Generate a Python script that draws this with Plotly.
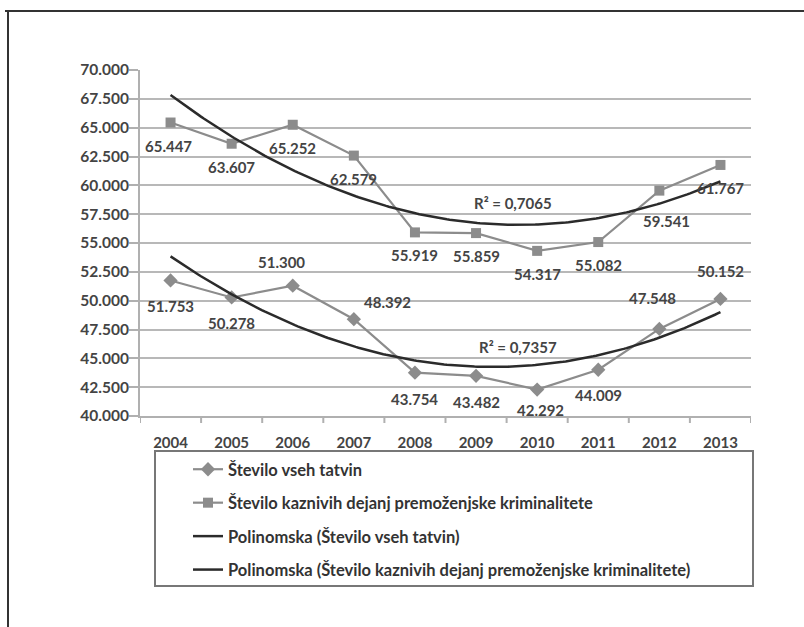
import numpy as np
import plotly.graph_objects as go

years = ["2004", "2005", "2006", "2007", "2008", "2009", "2010", "2011", "2012", "2013"]
tatvine = [51753, 50278, 51300, 48392, 43754, 43482, 42292, 44009, 47548, 50152]
premozenjske = [65447, 63607, 65252, 62579, 55919, 55859, 54317, 55082, 59541, 61767]
tatvine_labels = ["51.753", "50.278", "51.300", "48.392", "43.754", "43.482", "42.292", "44.009", "47.548", "50.152"]
premozenjske_labels = ["65.447", "63.607", "65.252", "62.579", "55.919", "55.859", "54.317", "55.082", "59.541", "61.767"]
ytick_vals = [40000, 42500, 45000, 47500, 50000, 52500, 55000, 57500, 60000, 62500, 65000, 67500, 70000]
ytick_text = ["40.000", "42.500", "45.000", "47.500", "50.000", "52.500", "55.000", "57.500", "60.000", "62.500", "65.000", "67.500", "70.000"]
names = ["Število vseh tatvin",
         "Število kaznivih dejanj premoženjske kriminalitete",
         "Polinomska (Število vseh tatvin)",
         "Polinomska (Število kaznivih dejanj premoženjske kriminalitete)"]

# label offsets (pixels) for the data labels
t_shift = [(0, -26), (0, -26), (-11, 24), (34, 17), (0, -26), (0, -26), (3, -20), (0, -25), (-7, 31), (0, 28)]
p_shift = [(-2, -23), (0, -23), (0, -23), (0, -23), (0, -23), (0, -23), (0, -23), (0, -23), (7, -30), (0, -23)]

W, H = 804, 627
L, R, T, B = 140, 53, 70, 211
pw, ph = W - L - R, H - T - B

def px(x):
    return (x - L) / pw

def py(y):
    return (H - B - y) / ph

xi = np.arange(len(years))
dense = np.linspace(0, len(years) - 1, 200)

def fit(vals):
    c = np.polyfit(xi, vals, 2)
    pred = np.polyval(c, xi)
    v = np.array(vals, dtype=float)
    r2 = 1 - np.sum((v - pred) ** 2) / np.sum((v - v.mean()) ** 2)
    return np.polyval(c, dense), r2

t_fit, t_r2 = fit(tatvine)
p_fit, p_r2 = fit(premozenjske)

gray = "#8c8c8c"
dark = "#2b2b2b"
font = "Lato"
txtc = "#444444"

fig = go.Figure()
fig.add_trace(go.Scatter(x=xi, y=tatvine, mode="lines+markers", name=names[0],
                         line=dict(color=gray, width=2.2),
                         marker=dict(symbol="diamond", size=11, color=gray),
                         legendgroup="a"))
fig.add_trace(go.Scatter(x=xi, y=premozenjske, mode="lines+markers", name=names[1],
                         line=dict(color=gray, width=2.2),
                         marker=dict(symbol="square", size=10, color=gray),
                         legendgroup="b"))
fig.add_trace(go.Scatter(x=dense, y=t_fit, mode="lines", name=names[2],
                         line=dict(color=dark, width=2.5), legendgroup="c"))
fig.add_trace(go.Scatter(x=dense, y=p_fit, mode="lines", name=names[3],
                         line=dict(color=dark, width=2.5), legendgroup="d"))

ann = []
for i in range(len(years)):
    ann.append(dict(x=i, y=tatvine[i], text=tatvine_labels[i], showarrow=False,
                    xshift=t_shift[i][0], yshift=t_shift[i][1],
                    font=dict(family=font, size=15, color=txtc, weight="bold")))
    ann.append(dict(x=i, y=premozenjske[i], text=premozenjske_labels[i], showarrow=False,
                    xshift=p_shift[i][0], yshift=p_shift[i][1],
                    font=dict(family=font, size=15, color=txtc, weight="bold")))

ann.append(dict(x=5.6, y=58465, text="R² = %s" % f"{p_r2:.4f}".replace(".", ","), showarrow=False,
                font=dict(family=font, size=15, color=txtc, weight="bold")))
ann.append(dict(x=5.68, y=45976, text="R² = %s" % f"{t_r2:.4f}".replace(".", ","), showarrow=False,
                font=dict(family=font, size=15, color=txtc, weight="bold")))

shapes = [
    # outer frame (top and left edges)
    dict(type="line", xref="paper", yref="paper", x0=px(5), x1=px(810), y0=py(11), y1=py(11),
         line=dict(color="#333333", width=2)),
    dict(type="line", xref="paper", yref="paper", x0=px(8), x1=px(8), y0=py(11), y1=py(630),
         line=dict(color="#333333", width=2)),
    # legend box
    dict(type="rect", xref="paper", yref="paper", x0=px(155), x1=px(753), y0=py(451), y1=py(586),
         line=dict(color="#777777", width=2), fillcolor="rgba(0,0,0,0)"),
]
# boundary ticks on the category axis
for k in range(len(years) + 1):
    shapes.append(dict(type="line", xref="x", yref="paper", x0=k - 0.5, x1=k - 0.5, y0=0, y1=py(H - B + 7),
                       line=dict(color="#b0b0b0", width=2)))

fig.update_layout(
    width=W, height=H,
    margin=dict(l=L, r=R, t=T, b=B, autoexpand=False),
    paper_bgcolor="white", plot_bgcolor="white",
    font=dict(family=font, color=txtc),
    annotations=ann, shapes=shapes,
    legend=dict(x=px(188), y=py(452), xanchor="left", yanchor="top",
                font=dict(family=font, size=16.5, color="#333333", weight="bold"),
                bgcolor="rgba(0,0,0,0)", borderwidth=0, tracegroupgap=9,
                traceorder="grouped"),
    showlegend=True,
)
fig.update_xaxes(range=[-0.5, 9.5], tickvals=xi, ticktext=years, showgrid=False,
                 showline=True, linecolor="#b0b0b0", linewidth=2, zeroline=False,
                 ticks="", ticklabelstandoff=12,
                 tickfont=dict(family=font, size=15, color=txtc, weight="bold"))
fig.update_yaxes(range=[40000, 70000], tickvals=ytick_vals, ticktext=ytick_text,
                 showgrid=True, gridcolor="#b8b8b8", gridwidth=2,
                 showline=True, linecolor="#b0b0b0", linewidth=2, zeroline=False,
                 ticks="outside", ticklen=9, tickcolor="#b0b0b0", tickwidth=2,
                 ticklabelstandoff=-3,
                 tickfont=dict(family=font, size=15.5, color=txtc, weight="bold"))

fig.write_html("out.html", post_script="document.body.style.margin='0';",
               config={"displayModeBar": False})
